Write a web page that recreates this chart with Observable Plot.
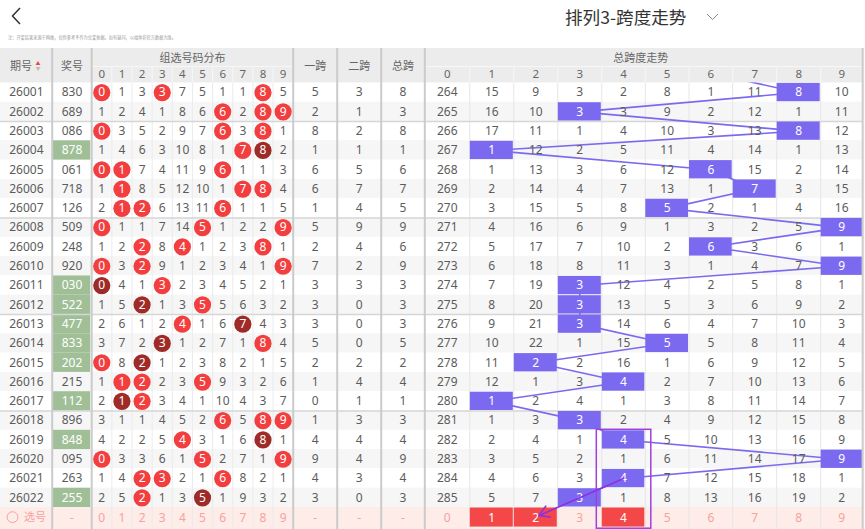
<!DOCTYPE html>
<html><head><meta charset="utf-8">
<script src="https://cdn.jsdelivr.net/npm/d3@7"></script>
<script src="https://cdn.jsdelivr.net/npm/@observablehq/plot@0.6"></script>
<style>
body{margin:0;background:#fff;font-family:"Noto Sans","Noto Sans CJK SC",sans-serif;}
#top{position:relative;height:47px;width:865px;}
#top svg.ic{position:absolute;left:0;top:0;}
.title{position:absolute;left:565px;top:6px;font-size:17.6px;line-height:22px;color:#333;font-family:"Noto Sans CJK SC","Noto Sans",sans-serif;white-space:nowrap;}
.note{position:absolute;left:8px;top:35px;font-size:10px;line-height:12px;color:#999;transform:scale(0.42);transform-origin:0 0;white-space:nowrap;font-family:"Noto Sans CJK SC",sans-serif;}
#chart{width:865px;}
</style></head>
<body>
<div id="top">
  <svg class="ic" width="865" height="47">
    <polyline points="20,8 12.5,16 20,24" fill="none" stroke="#333" stroke-width="1.5"/>
    <polyline points="707,14 712.5,19.5 718,14" fill="none" stroke="#888" stroke-width="1"/>
  </svg>
  <div class="title">排列3-跨度走势</div>
  <div class="note">注：开奖结果来源于网络，仅供参考不作为兑奖依据。如有疑问，以福体彩官方数据为准。</div>
</div>
<div id="chart"></div>
<script>
// ---------------- data ----------------
const periods = ["26001","26002","26003","26004","26005","26006","26007","26008","26009","26010","26011","26012","26013","26014","26015","26016","26017","26018","26019","26020","26021","26022"];
const numbers = ["830","689","086","878","061","718","126","509","248","920","030","522","477","833","202","215","112","896","848","095","263","255"];
const digits = [0,1,2,3,4,5,6,7,8,9];
// 组选号码分布 (displayed values; hit cells show the digit)
const dist = [
[0,1,3,3,7,5,1,1,8,5],
[1,2,4,1,8,6,6,2,8,9],
[0,3,5,2,9,7,6,3,8,1],
[1,4,6,3,10,8,1,7,8,2],
[0,1,7,4,11,9,6,1,1,3],
[1,1,8,5,12,10,1,7,8,4],
[2,1,2,6,13,11,6,1,1,5],
[0,1,1,7,14,5,1,2,2,9],
[1,2,2,8,4,1,2,3,8,1],
[0,3,2,9,1,2,3,4,1,9],
[0,4,1,3,2,3,4,5,2,1],
[1,5,2,1,3,5,5,6,3,2],
[2,6,1,2,4,1,6,7,4,3],
[3,7,2,3,1,2,7,1,8,4],
[0,8,2,1,2,3,8,2,1,5],
[1,1,2,2,3,5,9,3,2,6],
[2,1,2,3,4,1,10,4,3,7],
[3,1,1,4,5,2,6,5,8,9],
[4,2,2,5,4,3,1,6,8,1],
[0,3,3,6,1,5,2,7,1,9],
[1,4,2,3,2,1,6,8,2,1],
[2,5,2,1,3,5,1,9,3,2]
];
const span1 = [5,2,8,1,6,6,1,5,2,7,3,3,3,5,2,1,0,1,4,9,4,3];
const span2 = [3,1,2,1,5,7,4,9,4,2,3,0,0,0,2,4,1,3,4,4,3,0];
const spanTotal = [8,3,8,1,6,7,5,9,6,9,3,3,3,5,2,4,1,3,4,9,4,3];
const prevSpan = 6; // span of the period before 26001 (line enters from above)
// 总跨度走势 (displayed values; hit cell shows the span)
const trend = [
[264,15,9,3,2,8,1,11,8,10],
[265,16,10,3,3,9,2,12,1,11],
[266,17,11,1,4,10,3,13,8,12],
[267,1,12,2,5,11,4,14,1,13],
[268,1,13,3,6,12,6,15,2,14],
[269,2,14,4,7,13,1,7,3,15],
[270,3,15,5,8,5,2,1,4,16],
[271,4,16,6,9,1,3,2,5,9],
[272,5,17,7,10,2,6,3,6,1],
[273,6,18,8,11,3,1,4,7,9],
[274,7,19,3,12,4,2,5,8,1],
[275,8,20,3,13,5,3,6,9,2],
[276,9,21,3,14,6,4,7,10,3],
[277,10,22,1,15,5,5,8,11,4],
[278,11,2,2,16,1,6,9,12,5],
[279,12,1,3,4,2,7,10,13,6],
[280,1,2,4,1,3,8,11,14,7],
[281,1,3,3,2,4,9,12,15,8],
[282,2,4,1,4,5,10,13,16,9],
[283,3,5,2,1,6,11,14,17,9],
[284,4,6,3,4,7,12,15,18,1],
[285,5,7,3,1,8,13,16,19,2]
];
const pickedSpans = [1,2,4];          // 选号 row selected cells
const frameCol = 4, frameFromPeriod = "26019";
const arrowFrom = {period:"26021", col:4}, arrowTo = {col:2};
const groupBreaks = ["26003","26008","26013","26018"];

// ---------------- layout ----------------
const W = 865, H = 482;
const X = {period:[0,51.7], number:[51.7,91.2], s1:[292.7,336.7], s2:[336.7,380.7], st:[380.7,424.3]};
const distL = 91.2, distW = 20.15;
const trendWidths = [45,44,44,44,43.5,43.7,43.7,44,44,42];
const trendEdges = [424.3]; trendWidths.forEach(w => trendEdges.push(trendEdges[trendEdges.length-1] + w));
const tableR = trendEdges[10];
const headTop = 1, headMid = 19, bodyTop = 35.4, rowH = 19.3;
const rowTop = i => bodyTop + i * rowH;
const rowMid = i => rowTop(i) + rowH / 2;
const mid = a => (a[0] + a[1]) / 2;
const distX = k => distL + distW * (k + 0.5);
const trendX = k => (trendEdges[k] + trendEdges[k + 1]) / 2;
const n = periods.length;
const TXT = "#5c5c5c", PINK = "#f6a3a0", RED = "#f23e3e", DARK = "#9e2b27", BLUE = "#7b6af0", GREEN = "#a0bf97";

// ---------------- derived tables ----------------
const stripes = periods.map((p, i) => ({y1: rowTop(i), y2: rowTop(i + 1), fill: i % 2 ? "#f6f6f6" : "#ffffff"}));
stripes.push({y1: rowTop(n), y2: H, fill: "#fdece8"});

const greens = [];
const circles = [];
const cells = [];
const boxes = [];
periods.forEach((p, i) => {
  const y = rowMid(i), num = numbers[i];
  const g3 = new Set(num).size < 3;
  if (g3) greens.push({x1: X.number[0] + 1, x2: X.number[1] - 1, y1: rowTop(i), y2: rowTop(i + 1)});
  cells.push({x: mid(X.period), y, t: p, c: TXT});
  cells.push({x: mid(X.number), y, t: num, c: g3 ? "#ffffff" : TXT});
  digits.forEach(k => {
    const cnt = num.split("").filter(d => d === String(k)).length;
    if (cnt > 0) circles.push({x: distX(k), y, fill: cnt > 1 ? DARK : RED});
    cells.push({x: distX(k), y, t: String(dist[i][k]), c: cnt > 0 ? "#ffffff" : TXT});
    const hit = spanTotal[i] === k;
    if (hit) boxes.push({x1: trendEdges[k] + 0.5, x2: trendEdges[k + 1] - 0.5, y1: rowTop(i) + 0.5, y2: rowTop(i + 1) - 0.5, fill: BLUE});
    cells.push({x: trendX(k), y, t: String(trend[i][k]), c: hit ? "#ffffff" : TXT});
  });
  cells.push({x: mid(X.s1), y, t: String(span1[i]), c: TXT});
  cells.push({x: mid(X.s2), y, t: String(span2[i]), c: TXT});
  cells.push({x: mid(X.st), y, t: String(spanTotal[i]), c: TXT});
});
// 选号 row
const yPick = rowMid(n) + 0.6;
cells.push({x: mid(X.number), y: yPick, t: "-", c: PINK});
cells.push({x: mid(X.s1), y: yPick, t: "-", c: PINK});
cells.push({x: mid(X.s2), y: yPick, t: "-", c: PINK});
cells.push({x: mid(X.st), y: yPick, t: "-", c: PINK});
digits.forEach(k => {
  cells.push({x: distX(k), y: yPick, t: String(k), c: PINK});
  const picked = pickedSpans.includes(k);
  if (picked) boxes.push({x1: trendEdges[k] + 0.5, x2: trendEdges[k + 1] - 0.5, y1: rowTop(n) + 0.5, y2: rowTop(n + 1) + 0.3, fill: "#f44848"});
  cells.push({x: trendX(k), y: yPick, t: String(k), c: picked ? "#ffffff" : PINK});
});

const trendPath = [{x: trendX(prevSpan), y: rowMid(-1)}].concat(periods.map((p, i) => ({x: trendX(spanTotal[i]), y: rowMid(i)})));

// grid lines
const thickV = [X.number[0], X.number[1], X.s1[0], X.s2[0], X.st[0], X.st[1], tableR];
const thinDistV = digits.slice(1).map(k => distL + distW * k);
const thinTrendV = digits.slice(1).map(k => trendEdges[k]);
const groupH = groupBreaks.map(p => rowTop(periods.indexOf(p)));

// header texts
const headCN = [
  {x: 20.5, y: 18.5, t: "期号"},
  {x: mid(X.number), y: 18.5, t: "奖号"},
  {x: (distL + X.s1[0]) / 2, y: 10.5, t: "组选号码分布"},
  {x: mid(X.s1), y: 18.5, t: "一跨"},
  {x: mid(X.s2), y: 18.5, t: "二跨"},
  {x: mid(X.st), y: 18.5, t: "总跨"},
  {x: (trendEdges[0] + tableR) / 2 - 3, y: 10.5, t: "总跨度走势"}
];
const headDigits = digits.map(k => ({x: distX(k), y: 27.3, t: String(k)}))
  .concat(digits.map(k => ({x: trendX(k), y: 27.3, t: String(k)})));

const fr = {x1: trendEdges[frameCol] - 5, x2: trendEdges[frameCol + 1] + 6, y1: rowTop(periods.indexOf(frameFromPeriod)) - 0.5, y2: H - 0.8};
const ar = {x1: trendX(arrowFrom.col), y1: rowMid(periods.indexOf(arrowFrom.period)), x2: trendX(arrowTo.col) + 3, y2: rowMid(n) - 1.5};

const chart = Plot.plot({
  width: W, height: H, margin: 0,
  x: {type: "linear", domain: [0, W], range: [0, W], axis: null},
  y: {type: "linear", domain: [0, H], range: [0, H], axis: null},
  color: {type: "identity"},
  style: {fontFamily: "'Noto Sans','Noto Sans CJK SC',sans-serif", fontSize: "12px", background: "#fff"},
  marks: [
    Plot.rect(stripes, {x1: 0, x2: tableR, y1: "y1", y2: "y2", fill: "fill"}),
    Plot.rect(greens, {x1: "x1", x2: "x2", y1: "y1", y2: "y2", fill: GREEN}),
    Plot.ruleX(thinDistV, {x: d => d, y1: bodyTop, y2: H, stroke: "#ebebeb", strokeWidth: 1}),
    Plot.ruleX(thinTrendV, {x: d => d, y1: bodyTop, y2: H, stroke: "#e6e6e6", strokeWidth: 1}),
    Plot.ruleY(groupH, {y: d => d, x1: 0, x2: tableR, stroke: "#d6d6d6", strokeWidth: 1.5}),
    Plot.line(trendPath, {x: "x", y: "y", stroke: BLUE, strokeWidth: 1.6}),
    // header
    Plot.rect([{}], {x1: 0, x2: tableR, y1: headTop, y2: bodyTop, fill: "#ececec"}),
    Plot.ruleY([headMid], {x1: distL, x2: X.s1[0], stroke: "#f7f7f7", strokeWidth: 1}),
    Plot.ruleY([headMid], {x1: trendEdges[0], x2: tableR, stroke: "#f7f7f7", strokeWidth: 1}),
    Plot.ruleX(thinDistV.concat(thinTrendV), {x: d => d, y1: headMid, y2: bodyTop, stroke: "#f7f7f7", strokeWidth: 1}),
    Plot.ruleX(thickV, {x: d => d, y1: headTop, y2: H, stroke: "#cbcbcb", strokeWidth: 2}),
    Plot.text(headCN, {x: "x", y: "y", text: "t", fill: "#666", fontSize: 11, fontFamily: "'Noto Sans CJK SC',sans-serif"}),
    Plot.text([{}], {x: 37.5, y: 15.8, text: () => "▲", fill: "#f04848", fontSize: 5}),
    Plot.text([{}], {x: 37.5, y: 20.6, text: () => "▼", fill: "#bbbbbb", fontSize: 5}),
    Plot.text(headDigits, {x: "x", y: "y", text: "t", fill: "#666", fontSize: 11.5}),
    // body
    Plot.rect(boxes, {x1: "x1", x2: "x2", y1: "y1", y2: "y2", fill: "fill"}),
    Plot.dot(circles, {x: "x", y: "y", r: 8.6, fill: "fill"}),
    Plot.text(cells, {x: "x", y: "y", text: "t", fill: "c", fontSize: 12}),
    Plot.dot([{}], {x: 12, y: rowMid(n), r: 5.4, fill: "none", stroke: PINK, strokeWidth: 1}),
    Plot.text([{}], {x: 34.5, y: rowMid(n), text: () => "选号", fill: PINK, fontSize: 11, fontFamily: "'Noto Sans CJK SC',sans-serif"}),
    // annotations
    Plot.rect([fr], {x1: "x1", x2: "x2", y1: "y1", y2: "y2", fill: "none", stroke: "#a040dc", strokeWidth: 1.5}),
    Plot.arrow([ar], {x1: "x1", y1: "y1", x2: "x2", y2: "y2", stroke: "#8f2ee6", strokeWidth: 1.6, headLength: 11})
  ]
});
document.getElementById("chart").appendChild(chart);
</script>
</body></html>
